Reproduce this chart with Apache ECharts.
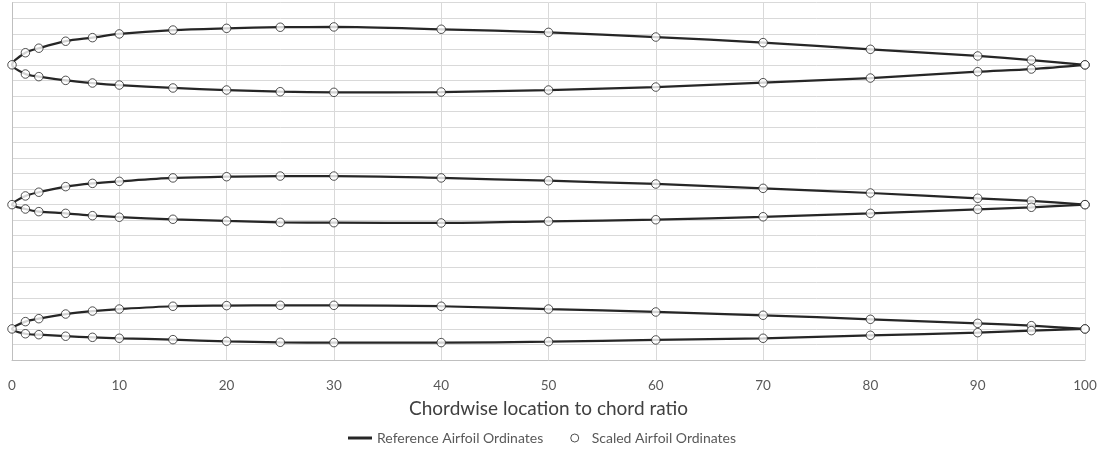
<!DOCTYPE html>
<html>
<head>
<meta charset="utf-8">
<script src="https://cdn.jsdelivr.net/npm/echarts@6/dist/echarts.min.js"></script>
<style>
html,body{margin:0;padding:0;background:#fff;}
#chart{width:1102px;height:454px;}
</style>
</head>
<body>
<div id="chart"></div>
<script>
const xStations = [0, 1.25, 2.5, 5, 7.5, 10, 15, 20, 25, 30, 40, 50, 60, 70, 80, 90, 95, 100];
const xTicks = [0, 10, 20, 30, 40, 50, 60, 70, 80, 90, 100];

const airfoil1Upper = [19.0, 19.78, 20.07, 20.52, 20.75, 20.99, 21.24, 21.35, 21.42, 21.44, 21.29, 21.09, 20.79, 20.43, 20.0, 19.57, 19.31, 19.0];
const airfoil1Lower = [19.0, 18.41, 18.24, 18.0, 17.83, 17.70, 17.51, 17.38, 17.27, 17.23, 17.25, 17.38, 17.57, 17.85, 18.15, 18.56, 18.73, 19.0];
const airfoil2Upper = [10.0, 10.56, 10.8, 11.16, 11.37, 11.5, 11.72, 11.8, 11.84, 11.84, 11.72, 11.54, 11.33, 11.05, 10.75, 10.41, 10.24, 10.0];
const airfoil2Lower = [10.0, 9.72, 9.55, 9.44, 9.29, 9.19, 9.06, 8.95, 8.86, 8.84, 8.82, 8.93, 9.03, 9.22, 9.44, 9.7, 9.83, 10.0];
const airfoil3Upper = [2.0, 2.47, 2.66, 2.96, 3.15, 3.28, 3.46, 3.5, 3.52, 3.52, 3.46, 3.28, 3.09, 2.88, 2.62, 2.36, 2.21, 2.0];
const airfoil3Lower = [2.0, 1.69, 1.63, 1.53, 1.46, 1.4, 1.31, 1.2, 1.14, 1.12, 1.12, 1.18, 1.29, 1.4, 1.59, 1.76, 1.89, 2.0];

const seriesNames = ['Reference Airfoil Ordinates', 'Scaled Airfoil Ordinates'];
const axisTitle = 'Chordwise location to chord ratio';

function contour(upper, lower) {
  const pts = [];
  for (let i = xStations.length - 1; i >= 0; i--) pts.push([xStations[i], upper[i]]);
  for (let i = 1; i < xStations.length; i++) pts.push([xStations[i], lower[i]]);
  return pts;
}

const airfoils = [
  contour(airfoil1Upper, airfoil1Lower),
  contour(airfoil2Upper, airfoil2Lower),
  contour(airfoil3Upper, airfoil3Lower)
];

const FONT = 'Lato';
const series = [];
airfoils.forEach(function (pts) {
  series.push({
    name: seriesNames[0],
    type: 'line',
    data: pts,
    smooth: 0.3,
    symbol: 'none',
    clip: false,
    lineStyle: { color: '#262626', width: 2.25 },
    itemStyle: { color: '#262626' },
    z: 2,
    silent: true
  });
});
airfoils.forEach(function (pts) {
  series.push({
    name: seriesNames[1],
    type: 'scatter',
    data: pts,
    symbol: 'circle',
    symbolSize: 8.5,
    clip: false,
    itemStyle: { color: '#ffffff', borderColor: '#262626', borderWidth: 1 },
    z: 3,
    silent: true
  });
});

const chart = echarts.init(document.getElementById('chart'), null, { renderer: 'canvas' });
chart.setOption({
  animation: false,
  backgroundColor: '#ffffff',
  textStyle: { fontFamily: FONT },
  grid: { left: 12, right: 17, top: 2.7, bottom: 94, containLabel: false },
  xAxis: {
    type: 'value',
    min: xTicks[0],
    max: xTicks[xTicks.length - 1],
    interval: 10,
    name: axisTitle,
    nameLocation: 'middle',
    nameGap: 39,
    nameTextStyle: { fontFamily: FONT, fontSize: 19, color: '#404040' },
    axisLine: { show: true, lineStyle: { color: '#bfbfbf', width: 1 } },
    axisTick: { show: false },
    axisLabel: { fontFamily: FONT, fontSize: 13.5, color: '#595959', margin: 19 },
    splitLine: { show: true, lineStyle: { color: '#d9d9d9', width: 1 } }
  },
  yAxis: {
    type: 'value',
    min: 0,
    max: 23,
    interval: 1,
    axisLine: { show: true, lineStyle: { color: '#bfbfbf', width: 1 } },
    axisTick: { show: false },
    axisLabel: { show: false },
    splitLine: { show: true, lineStyle: { color: '#d9d9d9', width: 1 } }
  },
  legend: {
    bottom: 4,
    left: 343,
    itemGap: 27,
    itemWidth: 24,
    itemHeight: 8,
    textStyle: { fontFamily: FONT, fontSize: 14, color: '#595959' },
    data: [
      { name: seriesNames[0], icon: 'path://M0,0 L24,0 L24,3 L0,3 Z', itemStyle: { color: '#262626' } },
      { name: seriesNames[1], icon: 'circle', itemStyle: { color: '#ffffff', borderColor: '#262626', borderWidth: 1 } }
    ]
  },
  series: series
});
</script>
</body>
</html>
